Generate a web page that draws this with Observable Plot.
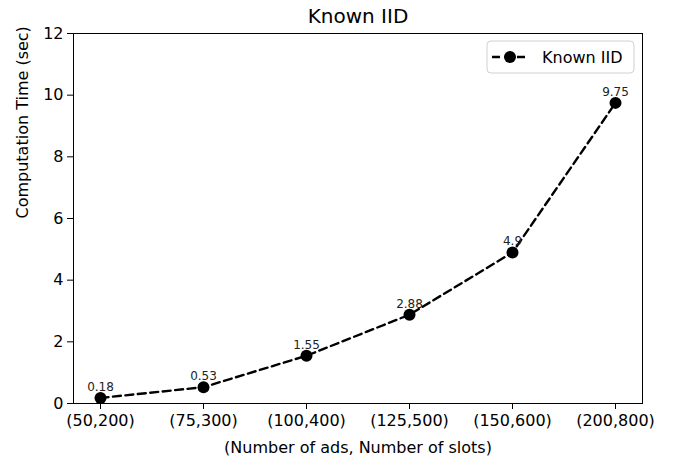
<!DOCTYPE html>
<html>
<head>
<meta charset="utf-8">
<script src="https://cdn.jsdelivr.net/npm/d3@7"></script>
<script src="https://cdn.jsdelivr.net/npm/@observablehq/plot@0.6"></script>
<style>
  html, body { margin: 0; padding: 0; background: #fff; }
  #chart { width: 673px; height: 462px; }
</style>
</head>
<body>
<div id="chart"></div>
<script>
const categories = ["(50,200)", "(75,300)", "(100,400)", "(125,500)", "(150,600)", "(200,800)"];
const times = [0.18, 0.53, 1.55, 2.88, 4.9, 9.75];
const yTicks = [0, 2, 4, 6, 8, 10, 12];
const seriesName = "Known IID";
const titleText = "Known IID";
const xLabel = "(Number of ads, Number of slots)";
const yLabel = "Computation Time (sec)";

const data = categories.map((c, i) => ({cat: c, t: times[i]}));

const chart = Plot.plot({
  width: 673,
  height: 462,
  marginLeft: 73,
  marginRight: 31,
  marginTop: 33,
  marginBottom: 59,
  style: {fontFamily: "DejaVu Sans", fontSize: "16px", color: "black", background: "white"},
  x: {type: "point", domain: categories, padding: 0.25},
  y: {domain: [0, 12]},
  marks: [
    Plot.frame({stroke: "black", strokeWidth: 1}),
    Plot.axisY({ticks: yTicks, tickSize: 6, tickPadding: 4, fontSize: 16, label: null, stroke: "black"}),
    Plot.axisX({tickSize: 6, tickPadding: 5, fontSize: 16, label: null, stroke: "black"}),
    Plot.text([yLabel], {frameAnchor: "left", rotate: -90, dx: -51, fontSize: 16, text: d => d}),
    Plot.text([xLabel], {frameAnchor: "bottom", lineAnchor: "middle", dy: 44, fontSize: 16, text: d => d}),
    Plot.text([titleText], {frameAnchor: "top", lineAnchor: "middle", dy: -17, fontSize: 20, text: d => d}),
    Plot.line(data, {x: "cat", y: "t", stroke: "black", strokeWidth: 2.4, strokeDasharray: "8,4.5"}),
    Plot.dot(data, {x: "cat", y: "t", r: 6, fill: "black", stroke: "none"}),
    Plot.text(data, {x: "cat", y: "t", text: d => String(d.t), dy: -11, fontSize: 12, fill: "#222"})
  ]
});

document.getElementById("chart").appendChild(chart);

// legend box inside the plot frame (upper right)
const svg = d3.select(chart);
const g = svg.append("g").attr("font-family", "DejaVu Sans").attr("font-size", 16).attr("text-anchor", "start");
g.append("rect").attr("x", 487).attr("y", 41).attr("width", 147).attr("height", 32)
  .attr("rx", 4).attr("fill", "white").attr("fill-opacity", 0.8).attr("stroke", "#d0d0d0");
g.append("line").attr("x1", 492).attr("x2", 528).attr("y1", 57).attr("y2", 57)
  .attr("stroke", "black").attr("stroke-width", 2.4).attr("stroke-dasharray", "8,4.5");
g.append("circle").attr("cx", 510).attr("cy", 57).attr("r", 6).attr("fill", "black");
g.append("text").attr("x", 542).attr("y", 57).attr("dy", "0.35em").attr("fill", "black").attr("text-anchor", "start").text(seriesName);
</script>
</body>
</html>
